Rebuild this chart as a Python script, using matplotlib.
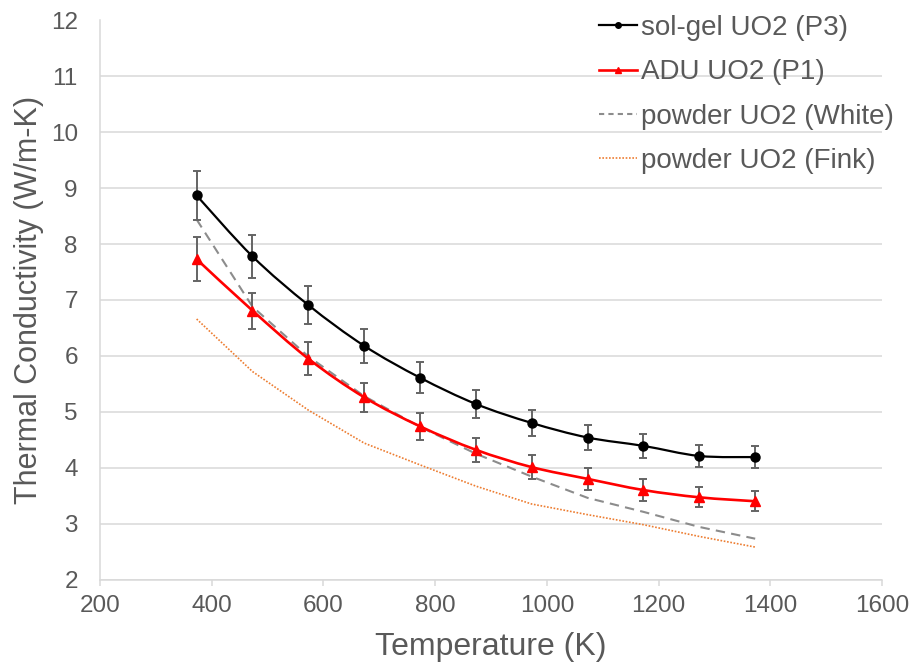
import matplotlib
matplotlib.use("Agg")
import matplotlib.pyplot as plt
import numpy as np
from matplotlib.path import Path
from matplotlib.patches import PathPatch
from matplotlib.lines import Line2D

plt.rcParams['font.family'] = ['Liberation Sans', 'DejaVu Sans']

# data
temp = [373, 473, 573, 673, 773, 873, 973, 1073, 1173, 1273, 1373]
solgel = [8.87, 7.78, 6.91, 6.18, 5.61, 5.14, 4.80, 4.54, 4.39, 4.21, 4.19]
solgel_err = [0.44, 0.38, 0.34, 0.30, 0.28, 0.25, 0.24, 0.22, 0.22, 0.20, 0.20]
adu = [7.73, 6.81, 5.95, 5.26, 4.74, 4.32, 4.01, 3.80, 3.60, 3.47, 3.40]
adu_err = [0.39, 0.32, 0.29, 0.26, 0.24, 0.21, 0.21, 0.20, 0.19, 0.18, 0.18]
white = [8.44, 6.88, 5.99, 5.28, 4.73, 4.25, 3.84, 3.46, 3.21, 2.94, 2.73]
fink = [6.66, 5.72, 5.03, 4.44, 4.05, 3.67, 3.35, 3.16, 2.98, 2.77, 2.58]

labels = ["sol-gel UO2 (P3)", "ADU UO2 (P1)",
          "powder UO2 (White)", "powder UO2 (Fink)"]
xticks = [200, 400, 600, 800, 1000, 1200, 1400, 1600]
yticks = [2, 3, 4, 5, 6, 7, 8, 9, 10, 11, 12]

TXT = "#595959"
GRID = "#d9d9d9"


def smooth_path(x, y):
    # Excel-like smoothed line: cubic bezier segments through the points
    pts = np.column_stack([np.asarray(x, float), np.asarray(y, float)])
    n = len(pts)
    verts = [pts[0]]
    codes = [Path.MOVETO]
    for i in range(n - 1):
        p0 = pts[i - 1] if i > 0 else pts[i]
        p3 = pts[i + 2] if i + 2 < n else pts[i + 1]
        c1 = pts[i] + (pts[i + 1] - p0) / 6
        c2 = pts[i + 1] - (p3 - pts[i]) / 6
        verts += [c1, c2, pts[i + 1]]
        codes += [Path.CURVE4] * 3
    return Path(verts, codes)


fig = plt.figure(figsize=(9.13, 6.64), dpi=100)
ax = fig.add_axes([100 / 913, 1 - 579.5 / 664, 782 / 913, 559 / 664])

# gridlines
ax.set_axisbelow(True)
ax.grid(True, axis="y", color=GRID, linewidth=1.1)
ax.grid(False, axis="x")

# reference curves
ax.plot(temp, white, color="#8c8c8c", linewidth=1.5, dashes=(4.5, 3), zorder=2)
ax.plot(temp, fink, color="#ED7D31", linewidth=1.2, dashes=(1, 1), zorder=2)

# measured data with error bars
ax.errorbar(temp, solgel, yerr=solgel_err, fmt="none", ecolor="#646464",
            elinewidth=1.4, capsize=2.8, capthick=1.4, zorder=3)
ax.errorbar(temp, adu, yerr=adu_err, fmt="none", ecolor="#646464",
            elinewidth=1.4, capsize=2.8, capthick=1.4, zorder=3)

ax.add_patch(PathPatch(smooth_path(temp, solgel), fill=False,
                       edgecolor="black", linewidth=1.6, zorder=4))
ax.add_patch(PathPatch(smooth_path(temp, adu), fill=False,
                       edgecolor="#ff0000", linewidth=1.9, zorder=4))
ax.plot(temp, solgel, linestyle="none", marker="o", markersize=6.5,
        color="black", zorder=5)
ax.plot(temp, adu, linestyle="none", marker="^", markersize=7.5,
        color="#ff0000", zorder=5)

ax.set_xlim(200, 1600)
ax.set_ylim(2, 12)
ax.set_xticks(xticks)
ax.set_yticks(yticks)

for s in ["top", "right"]:
    ax.spines[s].set_visible(False)
for s in ["left", "bottom"]:
    ax.spines[s].set_color(GRID)
    ax.spines[s].set_linewidth(1.1)

ax.tick_params(axis="x", direction="out", length=4.5, width=1.1, color=GRID,
               labelsize=17.5, labelcolor=TXT, pad=7)
ax.tick_params(axis="y", length=0, labelsize=17.5, labelcolor=TXT, pad=16)

ax.set_xlabel("Temperature (K)", fontsize=23, color=TXT)
ax.set_ylabel("Thermal Conductivity (W/m-K)", fontsize=22, color=TXT)
ax.xaxis.set_label_coords(0.5, -0.094)
ax.yaxis.set_label_coords(-0.072, 0.5)

handles = [
    Line2D([], [], color="black", linewidth=1.6, marker="o", markersize=4),
    Line2D([], [], color="#ff0000", linewidth=1.9, marker="^", markersize=5),
    Line2D([], [], color="#8c8c8c", linewidth=1.5, dashes=(2.5, 2)),
    Line2D([], [], color="#ED7D31", linewidth=1.2, dashes=(1, 1)),
]
leg = ax.legend(handles, labels, loc="upper left",
                bbox_to_anchor=(599 / 913, 1 - 15 / 664),
                bbox_transform=fig.transFigure, frameon=False,
                fontsize=20, handlelength=1.35, handletextpad=0.15,
                labelspacing=0.66, borderpad=0, borderaxespad=0)
for t in leg.get_texts():
    t.set_color(TXT)

fig.savefig("out.png", dpi=100)
